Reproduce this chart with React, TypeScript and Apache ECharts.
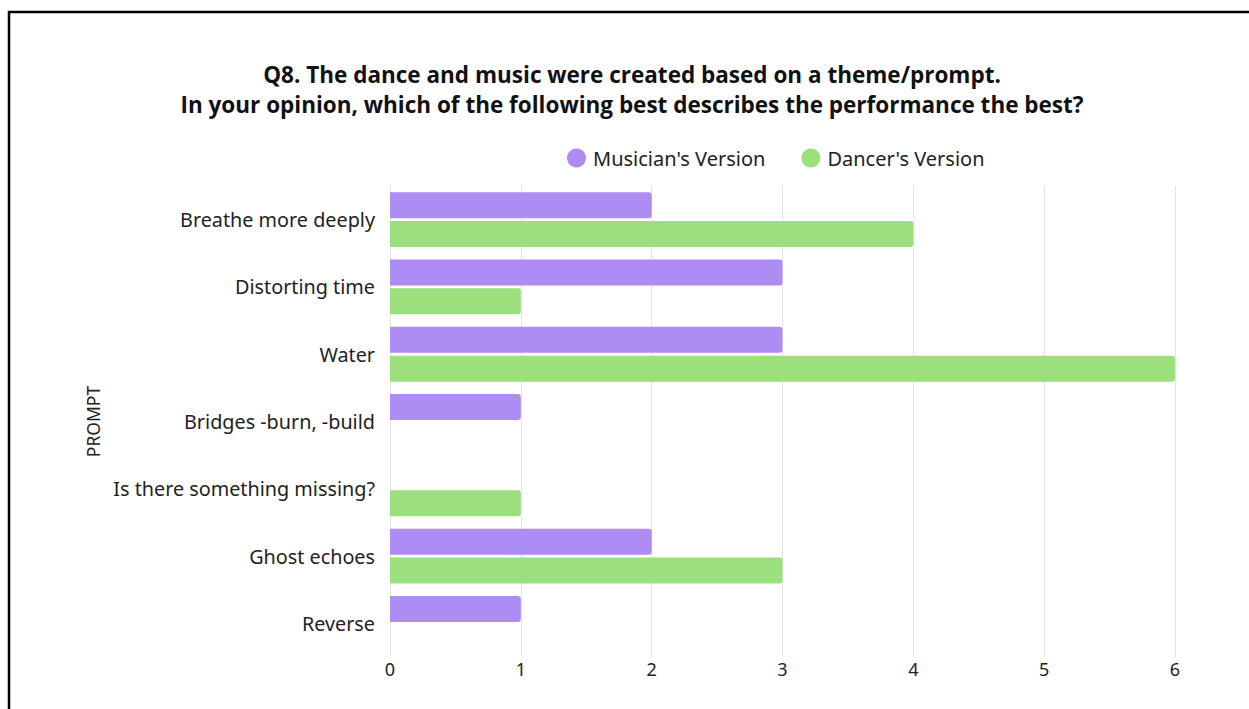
import React, { useEffect, useRef } from "react";
import * as echarts from "echarts";

const categories = [
  "Breathe more deeply",
  "Distorting time",
  "Water",
  "Bridges -burn, -build",
  "Is there something missing?",
  "Ghost echoes",
  "Reverse",
];
const musicianValues = [2, 3, 3, 1, null, 2, 1];
const dancerValues = [4, 1, 6, null, 1, 3, null];
const seriesNames = ["Musician's Version", "Dancer's Version"];
const xTicks = { min: 0, max: 6, interval: 1 };
const titleLines = [
  "Q8. The dance and music were created based on a theme/prompt.",
  "In your opinion, which of the following best describes the performance the best?",
];
const yAxisName = "PROMPT";

const PURPLE = "#ad8cf3";
const GREEN = "#9be07c";
const FONT = "'Noto Sans', 'Open Sans', sans-serif";

export default function App() {
  const ref = useRef<HTMLDivElement>(null);
  useEffect(() => {
    if (!ref.current) return;
    const chart = echarts.init(ref.current, null, { renderer: "svg" });
    chart.setOption({
      animation: false,
      backgroundColor: "#ffffff",
      title: {
        text: titleLines.join("\n"),
        left: 627,
        textAlign: "center",
        top: 54,
        textStyle: {
          fontFamily: "'Open Sans', sans-serif",
          fontWeight: "bold",
          fontSize: 22.5,
          lineHeight: 30,
          color: "#111111",
        },
      },
      legend: {
        left: 562,
        top: 143,
        icon: "circle",
        itemWidth: 19,
        itemHeight: 19,
        itemGap: 36,
        textStyle: { fontFamily: FONT, fontSize: 20, color: "#222222", padding: [0, 0, 0, 2] },
        data: seriesNames,
      },
      graphic: [
        {
          type: "rect",
          shape: { x: 9, y: 12, width: 1300, height: 760 },
          style: { fill: "none", stroke: "#000000", lineWidth: 2.5 },
          silent: true,
          z: 100,
        },
      ],
      grid: { left: 390, right: 74, top: 186, bottom: 52, containLabel: false },
      xAxis: {
        type: "value",
        min: xTicks.min,
        max: xTicks.max,
        interval: xTicks.interval,
        axisLine: { show: false },
        axisTick: { show: false },
        splitLine: { show: true, lineStyle: { color: "#e4e4e4", width: 1 } },
        axisLabel: { fontFamily: FONT, fontSize: 18, color: "#222222", margin: 3 },
      },
      yAxis: {
        type: "category",
        inverse: true,
        data: categories,
        name: yAxisName,
        nameLocation: "middle",
        nameRotate: 90,
        nameGap: 286,
        nameTextStyle: { fontFamily: FONT, fontSize: 17.5, color: "#222222" },
        axisLine: { show: false },
        axisTick: { show: false },
        axisLabel: {
          fontFamily: FONT,
          fontSize: 19.8,
          color: "#222222",
          margin: 15,
          verticalAlign: "middle",
          padding: [0, 0, 5, 0],
        },
      },
      series: [
        {
          name: seriesNames[0],
          type: "bar",
          data: musicianValues,
          barWidth: 26,
          barGap: "11%",
          itemStyle: { color: PURPLE, borderRadius: [0, 3, 3, 0] },
        },
        {
          name: seriesNames[1],
          type: "bar",
          data: dancerValues,
          barWidth: 26,
          barGap: "11%",
          itemStyle: { color: GREEN, borderRadius: [0, 3, 3, 0] },
        },
      ],
    });
    return () => chart.dispose();
  }, []);
  return (
    <div
      ref={ref}
      style={{ position: "fixed", left: 0, top: 0, width: 1249, height: 709 }}
    />
  );
}
